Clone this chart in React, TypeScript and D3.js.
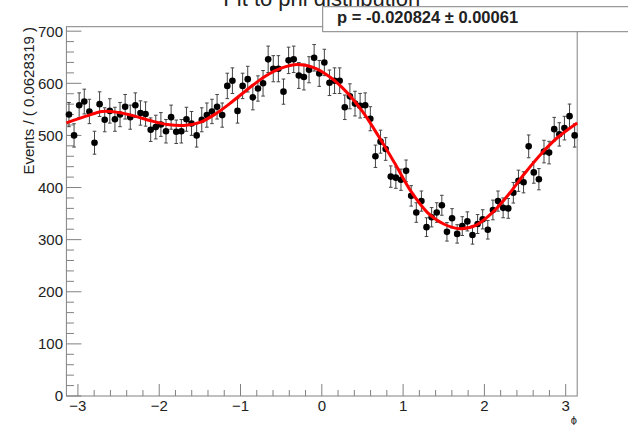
import React from "react";
import * as d3 from "d3";

const counts: number[] = [
  540, 500, 558, 565, 546, 486, 560, 530, 547, 531,
  540, 555, 535, 558, 543, 541, 511, 516, 521, 508,
  535, 507, 508, 531, 523, 500, 530, 539, 546, 555,
  539, 595, 605, 547, 595, 608, 573, 590, 600, 646,
  628, 628, 584, 644, 646, 615, 612, 626, 649, 619,
  640, 601, 605, 605, 554, 575, 561, 557, 558, 532,
  460, 488, 474, 421, 419, 415, 432, 384, 352, 374,
  324, 343, 352, 366, 315, 341, 311, 326, 335, 309,
  330, 339, 319, 357, 374, 361, 360, 390, 413, 410,
  479, 429, 416, 469, 467, 512, 502, 514, 537, 500,
];

const fitPhi: number[] = [
  -3.1416, -2.9, -2.7, -2.5, -2.3, -2.1, -1.9, -1.7, -1.5, -1.3, -1.1,
  -0.9, -0.7, -0.5, -0.3, -0.1, 0.1, 0.3, 0.5, 0.7, 0.9, 1.1, 1.3, 1.5,
  1.7, 1.9, 2.1, 2.3, 2.5, 2.7, 2.9, 3.1416,
];
const fitVal: number[] = [
  524, 537, 546, 544, 537, 528, 521, 519, 525, 542, 565,
  590, 613, 629, 636, 630, 612, 584, 546, 498, 446, 392, 352, 330,
  321, 328, 352, 387, 428, 465, 496, 524,
];

const yTicks: number[] = [0, 100, 200, 300, 400, 500, 600, 700];
const xTicks: number[] = [-3, -2, -1, 0, 1, 2, 3];
const titleText = "Fit to phi distribution";
const yLabel = "Events / ( 0.0628319 )";
const xLabel = "ϕ";
const statText = "p = -0.020824 ± 0.00061";

const W = 628;
const H = 425;
const FONT = "'Liberation Sans', Arial, Helvetica, sans-serif";

export default function App() {
  const x = d3.scaleLinear().domain([-Math.PI, Math.PI]).range([66.4, 577.2]);
  const y = d3.scaleLinear().domain([0, 708.6]).range([396, 26.7]);
  const nb = counts.length;
  const bw = (2 * Math.PI) / nb;
  const pts = counts.map((c, i) => ({ phi: -Math.PI + (i + 0.5) * bw, v: c, e: Math.sqrt(c) }));

  const line = d3
    .line<number>()
    .x((_, i) => x(fitPhi[i]))
    .y((d) => y(d))
    .curve(d3.curveCatmullRom.alpha(0.5));

  const yMinor = d3.range(0, 708, 20);
  const xMinor = d3.range(-3.2, 3.21, 0.2).filter((v) => v >= -Math.PI && v <= Math.PI);

  const axisCol = "#808080";
  const textCol = "#222";
  const [x0, x1] = x.range();
  const [yb, yt] = y.range();

  return (
    <svg width={W} height={H} style={{ position: "absolute", left: 0, top: 0, background: "#fff" }} fontFamily={FONT}>
      <rect x={0} y={0} width={W} height={H} fill="#fff" />
      {/* title (partly hidden by stat box) */}
      <text x={321.8} y={5.5} textAnchor="middle" fontSize={22} fill={textCol}>{titleText}</text>

      {/* frame */}
      <rect x={x0} y={yt} width={x1 - x0} height={yb - yt} fill="none" stroke={axisCol} strokeWidth={1} />

      {/* y axis ticks */}
      {yTicks.map((t) => (
        <g key={"yt" + t}>
          <line x1={x0} x2={x0 + 15} y1={y(t)} y2={y(t)} stroke={axisCol} strokeWidth={1} />
          <text x={63} y={y(t)} dy="0.36em" textAnchor="end" fontSize={15} fill={textCol}>{t}</text>
        </g>
      ))}
      {yMinor.filter((t) => t % 100 !== 0).map((t) => (
        <line key={"ym" + t} x1={x0} x2={x0 + 7.5} y1={y(t)} y2={y(t)} stroke={axisCol} strokeWidth={1} />
      ))}

      {/* x axis ticks */}
      {xTicks.map((t) => (
        <g key={"xt" + t}>
          <line x1={x(t)} x2={x(t)} y1={yb} y2={yb - 12} stroke={axisCol} strokeWidth={1} />
          <text x={x(t)} y={411} textAnchor="middle" fontSize={15} fill={textCol}>{t < 0 ? "\u2212" + Math.abs(t) : String(t)}</text>
        </g>
      ))}
      {xMinor.filter((t) => Math.abs(t - Math.round(t)) > 0.01).map((t, i) => (
        <line key={"xm" + i} x1={x(t)} x2={x(t)} y1={yb} y2={yb - 6} stroke={axisCol} strokeWidth={1} />
      ))}

      {/* axis titles */}
      <text transform={`translate(34, 27) rotate(-90)`} textAnchor="end" fontSize={15} fill={textCol}>{yLabel}</text>
      <text x={577} y={424} textAnchor="end" fontSize={11} fill={textCol}>{xLabel}</text>

      {/* data points */}
      {pts.map((p, i) => (
        <g key={"p" + i}>
          <line x1={x(p.phi)} x2={x(p.phi)} y1={y(p.v - p.e)} y2={y(p.v + p.e)} stroke="#444" strokeWidth={1} />
          <line x1={x(p.phi) - 1.8} x2={x(p.phi) + 1.8} y1={y(p.v - p.e)} y2={y(p.v - p.e)} stroke="#444" strokeWidth={1} />
          <line x1={x(p.phi) - 1.8} x2={x(p.phi) + 1.8} y1={y(p.v + p.e)} y2={y(p.v + p.e)} stroke="#444" strokeWidth={1} />
          <circle cx={x(p.phi)} cy={y(p.v)} r={3.3} fill="#000" />
        </g>
      ))}

      {/* fit curve */}
      <path d={line(fitVal) || ""} fill="none" stroke="#ff0000" strokeWidth={3} />

      {/* stat box */}
      <rect x={322.7} y={6.7} width={W} height={25} fill="#fff" stroke={axisCol} strokeWidth={1} />
      <text x={337} y={23.3} fontSize={16.5} fontWeight="bold" fill={textCol}>{statText}</text>
    </svg>
  );
}
